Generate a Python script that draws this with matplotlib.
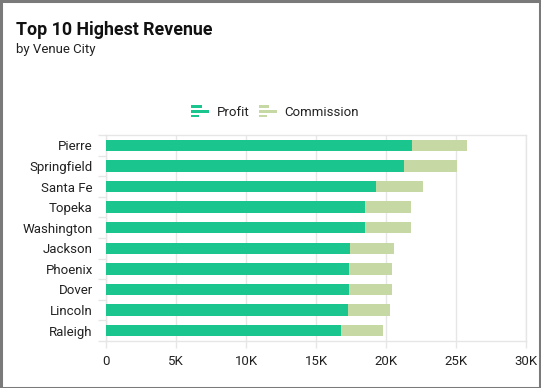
import matplotlib
matplotlib.use("Agg")
import matplotlib.pyplot as plt
import numpy as np
from matplotlib.patches import Rectangle
from matplotlib.legend_handler import HandlerBase
from matplotlib.ticker import FuncFormatter, MultipleLocator

plt.rcParams['font.family'] = ['Roboto', 'DejaVu Sans']

PROFIT_RGB = '#1BC58E'
COMMISSION_RGB = '#C6D9A4'
GRID_RGB = '#E6E6E6'
TEXT_RGB = '#222222'

cities = ['Pierre', 'Springfield', 'Santa Fe', 'Topeka', 'Washington',
          'Jackson', 'Phoenix', 'Dover', 'Lincoln', 'Raleigh']
profit = [21850, 21300, 19250, 18500, 18500, 17430, 17360, 17330, 17260, 16800]
commission = [3900, 3800, 3400, 3260, 3260, 3120, 3070, 3100, 3050, 3000]


class BarIconHandler(HandlerBase):
    # little "bar chart" glyph used as legend marker
    def create_artists(self, legend, orig_handle, xdescent, ydescent,
                       width, height, fontsize, trans):
        color = orig_handle.get_facecolor()
        h = height / 4.4
        gap = (height - 3 * h) / 2
        lens = [0.6, 1.0, 0.45]
        arts = []
        for i, frac in enumerate(lens):
            y = -ydescent + height - (i + 1) * h - i * gap
            r = Rectangle((-xdescent, y), width * frac, h, facecolor=color,
                          edgecolor='none', transform=trans)
            arts.append(r)
        return arts


figure = plt.figure(figsize=(5.41, 3.88), dpi=100, facecolor='white')
axes = figure.add_axes([106 / 541, 1 - 341 / 388, 420 / 541, 206 / 388])

y = np.arange(len(cities))
bar_h = 0.55
axes.barh(y, profit, height=bar_h, color=PROFIT_RGB, label='Profit', zorder=3)
axes.barh(y, commission, left=profit, height=bar_h, color=COMMISSION_RGB,
          label='Commission', zorder=3)

axes.set_ylim(len(cities) - 0.5, -0.5)
axes.set_xlim(0, 30000)
axes.set_yticks(y)
axes.set_yticklabels(cities)
axes.set_yticks(np.arange(len(cities) + 1) - 0.5, minor=True)
axes.xaxis.set_major_locator(MultipleLocator(5000))
axes.xaxis.set_major_formatter(FuncFormatter(lambda v, p: '0' if v == 0 else f'{int(v / 1000)}K'))

axes.grid(axis='x', color=GRID_RGB, linewidth=1, zorder=0)
for side in ['top', 'right', 'bottom', 'left']:
    axes.spines[side].set_color(GRID_RGB)
    axes.spines[side].set_linewidth(1)

axes.tick_params(axis='y', which='major', length=0, pad=9.5, labelsize=9.5, labelcolor=TEXT_RGB)
axes.tick_params(axis='y', which='minor', length=6, color=GRID_RGB, width=1)
axes.tick_params(axis='x', length=5, color=GRID_RGB, width=1, pad=5, labelsize=9.5, labelcolor=TEXT_RGB)

figure.text(16 / 541, 1 - 30 / 388, 'Top 10 Highest Revenue', fontsize=12.75,
            fontweight='bold', color='#111111', va='center', ha='left')
figure.text(16 / 541, 1 - 49 / 388, 'by Venue City', fontsize=9.5,
            color=TEXT_RGB, va='center', ha='left')

handles = [Rectangle((0, 0), 1, 1, facecolor=PROFIT_RGB),
           Rectangle((0, 0), 1, 1, facecolor=COMMISSION_RGB)]
figure.legend(handles, ['Profit', 'Commission'], loc='center',
              bbox_to_anchor=(275 / 541, 1 - 112 / 388), ncol=2, frameon=False,
              fontsize=9.5, handler_map={Rectangle: BarIconHandler()},
              handlelength=1.35, handleheight=1.05, handletextpad=0.6,
              columnspacing=0.7, labelcolor=TEXT_RGB)

# outer card border
figure.add_artist(Rectangle((0.5 / 541, 0.5 / 388), 539.5 / 541, 386.5 / 388,
                            transform=figure.transFigure, fill=False,
                            edgecolor='#7A7A7A', linewidth=2.2))

figure.savefig('out.png', dpi=100, facecolor='white')
